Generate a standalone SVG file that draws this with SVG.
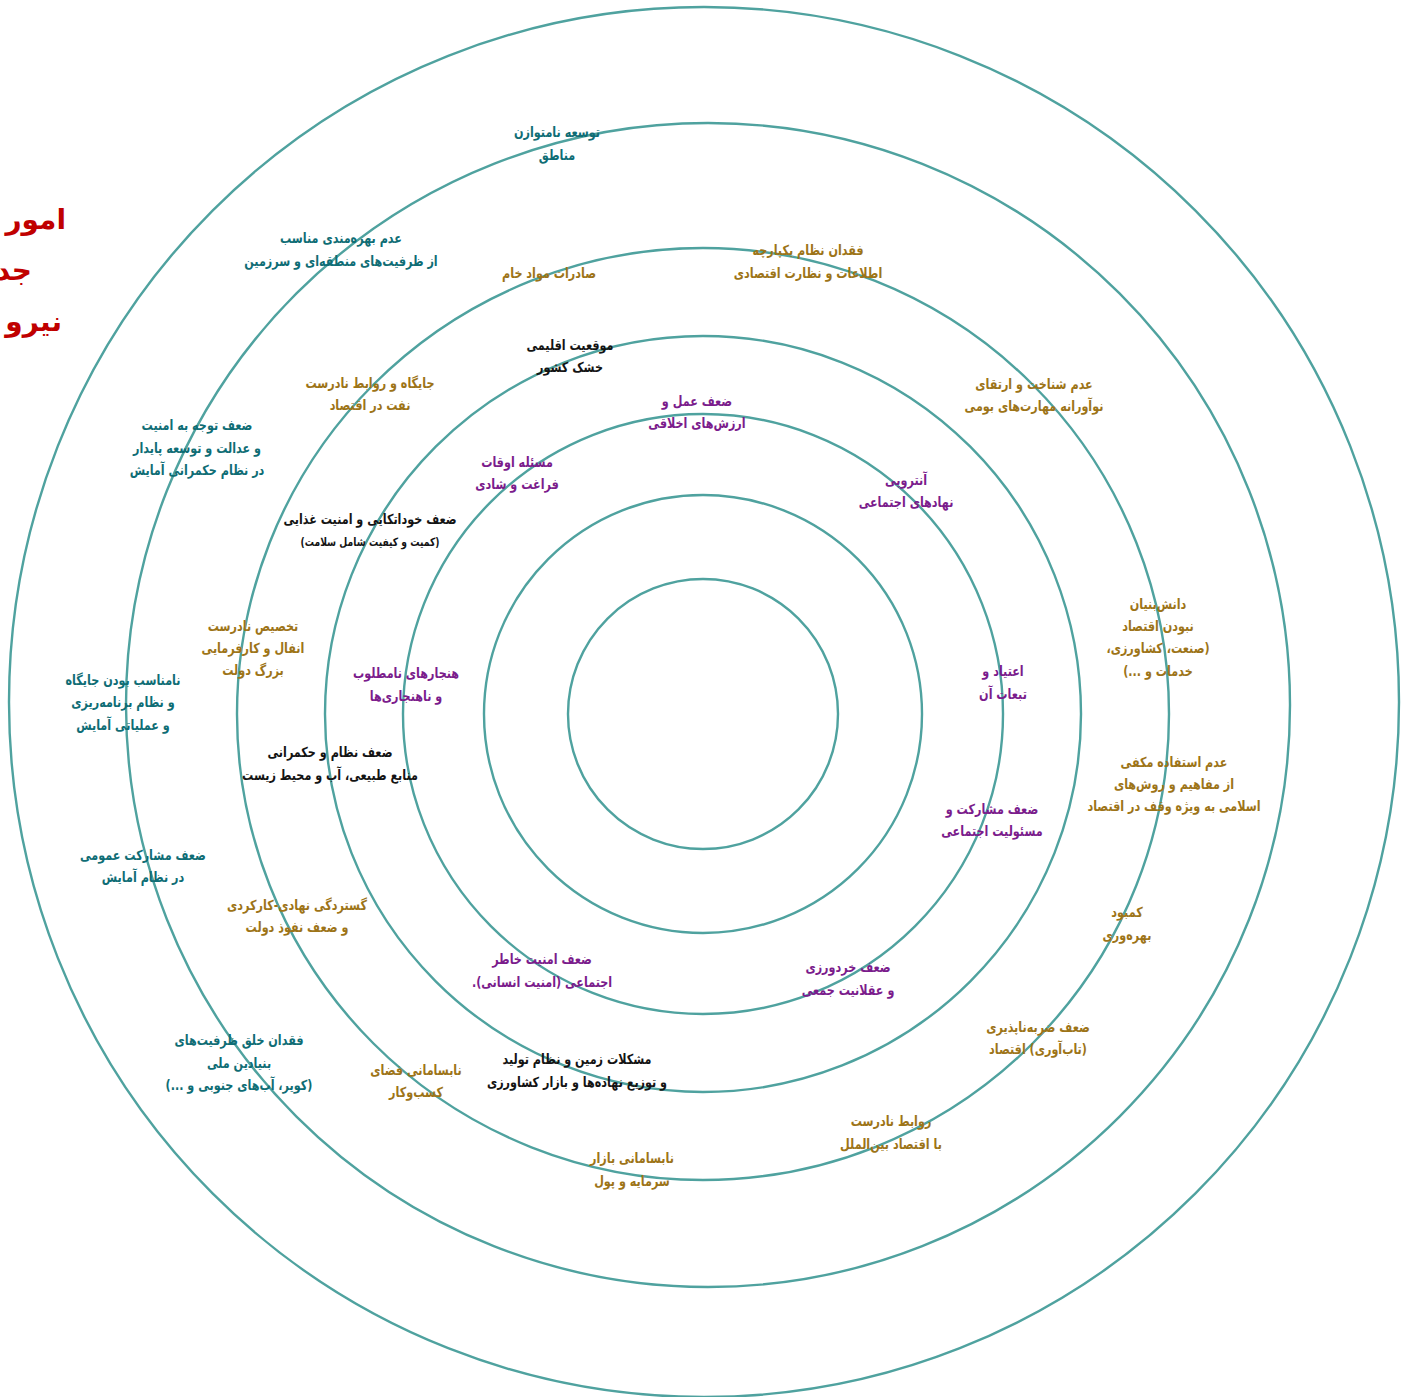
<svg xmlns="http://www.w3.org/2000/svg" width="1402" height="1397" viewBox="0 0 1402 1397">
<style>
.ring{fill:none;stroke:#4fa29f;stroke-width:2.4}
text{font-family:"DejaVu Sans",sans-serif;font-weight:bold;font-size:14px;text-anchor:middle;direction:rtl}
.teal{fill:#0f6d75}
.gold{fill:#9d7418}
.blk{fill:#141414}
.pur{fill:#7b1c8c}
.red text{fill:#c00000;font-size:28px;text-anchor:end;direction:ltr}
.sm{font-size:11.5px}
</style>
<rect width="1402" height="1397" fill="#ffffff"/>
<g id="rings">
<circle class="ring" cx="704" cy="702" r="695"/>
<circle class="ring" cx="708" cy="705" r="582"/>
<circle class="ring" cx="703" cy="714" r="466"/>
<circle class="ring" cx="703" cy="714" r="378"/>
<circle class="ring" cx="703" cy="714" r="300"/>
<circle class="ring" cx="703" cy="714" r="219"/>
<circle class="ring" cx="703" cy="714" r="135"/>
</g>
<g id="title" class="red">
<text x="66" y="229">امور</text>
<text x="32" y="280">جد</text>
<text x="62" y="331">نیرو</text>
</g>
<g id="labels">
<g id="t1" class="teal" transform="matrix(0.8 0 0 1 111.4 0)"><text x="557" y="137">توسعه نامتوازن</text><text x="557" y="160">مناطق</text></g>
<g id="t2" class="teal" transform="matrix(0.8 0 0 1 68.2 0)"><text x="341" y="243">عدم بهره&#8204;مندی مناسب</text><text x="341" y="266">از ظرفیت&#8204;های منطقه&#8204;ای و سرزمین</text></g>
<g id="t3" class="teal" transform="matrix(0.8 0 0 1 39.4 0)"><text x="197" y="430">ضعف توجه به امنیت</text><text x="197" y="453">و عدالت و توسعه پایدار</text><text x="197" y="475">در نظام حکمرانی آمایش</text></g>
<g id="t4" class="teal" transform="matrix(0.8 0 0 1 24.6 0)"><text x="123" y="685">نامناسب بودن جایگاه</text><text x="123" y="707">و نظام برنامه&#8204;ریزی</text><text x="123" y="730">و عملیاتی آمایش</text></g>
<g id="t5" class="teal" transform="matrix(0.8 0 0 1 28.6 0)"><text x="143" y="860">ضعف مشارکت عمومی</text><text x="143" y="882">در نظام آمایش</text></g>
<g id="t6" class="teal" transform="matrix(0.8 0 0 1 47.8 0)"><text x="239" y="1045">فقدان خلق ظرفیت&#8204;های</text><text x="239" y="1068">بنیادین ملی</text><text x="239" y="1090">(کویر، آب&#8204;های جنوبی و ...)</text></g>

<g id="g1" class="gold" transform="matrix(0.8 0 0 1 109.8 0)"><text x="549" y="278">صادرات مواد خام</text></g>
<g id="g2" class="gold" transform="matrix(0.8 0 0 1 161.6 0)"><text x="808" y="255">فقدان نظام یکپارچه</text><text x="808" y="278">اطلاعات و نظارت اقتصادی</text></g>
<g id="g3" class="gold" transform="matrix(0.8 0 0 1 206.8 0)"><text x="1034" y="389">عدم شناخت و ارتقای</text><text x="1034" y="411">نوآورانه مهارت&#8204;های بومی</text></g>
<g id="g4" class="gold" transform="matrix(0.8 0 0 1 231.6 0)"><text x="1158" y="609">دانش&#8204;بنیان</text><text x="1158" y="631">نبودن اقتصاد</text><text x="1158" y="653">(صنعت، کشاورزی،</text><text x="1158" y="676">خدمات و ...)</text></g>
<g id="g5" class="gold" transform="matrix(0.8 0 0 1 234.8 0)"><text x="1174" y="767">عدم استفاده مکفی</text><text x="1174" y="789">از مفاهیم و روش&#8204;های</text><text x="1174" y="811">اسلامی به ویژه وقف در اقتصاد</text></g>
<g id="g6" class="gold" transform="matrix(0.8 0 0 1 225.4 0)"><text x="1127" y="917">کمبود</text><text x="1127" y="940">بهره&#8204;وری</text></g>
<g id="g7" class="gold" transform="matrix(0.8 0 0 1 207.6 0)"><text x="1038" y="1032">ضعف ضربه&#8204;ناپذیری</text><text x="1038" y="1054">(تاب&#8204;آوری) اقتصاد</text></g>
<g id="g8" class="gold" transform="matrix(0.8 0 0 1 178.2 0)"><text x="891" y="1126">روابط نادرست</text><text x="891" y="1149">با اقتصاد بین&#8204;الملل</text></g>
<g id="g9" class="gold" transform="matrix(0.8 0 0 1 126.4 0)"><text x="632" y="1163">نابسامانی بازار</text><text x="632" y="1186">سرمایه و پول</text></g>
<g id="g10" class="gold" transform="matrix(0.8 0 0 1 83.2 0)"><text x="416" y="1075">نابسامانی فضای</text><text x="416" y="1097">کسب&#8204;وکار</text></g>
<g id="g11" class="gold" transform="matrix(0.8 0 0 1 59.4 0)"><text x="297" y="910">گستردگی نهادی-کارکردی</text><text x="297" y="932">و ضعف نفوذ دولت</text></g>
<g id="g12" class="gold" transform="matrix(0.8 0 0 1 50.6 0)"><text x="253" y="631">تخصیص نادرست</text><text x="253" y="653">انفال و کارفرمایی</text><text x="253" y="675">بزرگ دولت</text></g>
<g id="g13" class="gold" transform="matrix(0.8 0 0 1 74 0)"><text x="370" y="388">جایگاه و روابط نادرست</text><text x="370" y="410">نفت در اقتصاد</text></g>

<g id="b1" class="blk" transform="matrix(0.8 0 0 1 114 0)"><text x="570" y="350">موقعیت اقلیمی</text><text x="570" y="372">خشک کشور</text></g>
<g id="b2" class="blk" transform="matrix(0.8 0 0 1 74 0)"><text x="370" y="524">ضعف خوداتکایی و امنیت غذایی</text><text class="sm" x="370" y="546">(کمیت و کیفیت شامل سلامت)</text></g>
<g id="b3" class="blk" transform="matrix(0.8 0 0 1 66 0)"><text x="330" y="757">ضعف نظام و حکمرانی</text><text x="330" y="780">منابع طبیعی، آب و محیط زیست</text></g>
<g id="b4" class="blk" transform="matrix(0.8 0 0 1 115.4 0)"><text x="577" y="1064">مشکلات زمین و نظام تولید</text><text x="577" y="1087">و توزیع نهاده&#8204;ها و بازار کشاورزی</text></g>

<g id="p1" class="pur" transform="matrix(0.8 0 0 1 139.4 0)"><text x="697" y="406">ضعف عمل و</text><text x="697" y="428">ارزش&#8204;های اخلاقی</text></g>
<g id="p2" class="pur" transform="matrix(0.8 0 0 1 103.4 0)"><text x="517" y="467">مسئله اوقات</text><text x="517" y="489">فراغت و شادی</text></g>
<g id="p3" class="pur" transform="matrix(0.8 0 0 1 181.2 0)"><text x="906" y="485">آنتروپی</text><text x="906" y="507">نهادهای اجتماعی</text></g>
<g id="p4" class="pur" transform="matrix(0.8 0 0 1 81.2 0)"><text x="406" y="678">هنجارهای نامطلوب</text><text x="406" y="701">و ناهنجاری&#8204;ها</text></g>
<g id="p5" class="pur" transform="matrix(0.8 0 0 1 200.6 0)"><text x="1003" y="676">اعتیاد و</text><text x="1003" y="699">تبعات آن</text></g>
<g id="p6" class="pur" transform="matrix(0.8 0 0 1 198.4 0)"><text x="992" y="814">ضعف مشارکت و</text><text x="992" y="836">مسئولیت اجتماعی</text></g>
<g id="p7" class="pur" transform="matrix(0.8 0 0 1 108.4 0)"><text x="542" y="964">ضعف امنیت خاطر</text><text x="542" y="987">اجتماعی (امنیت انسانی).</text></g>
<g id="p8" class="pur" transform="matrix(0.8 0 0 1 169.6 0)"><text x="848" y="972">ضعف خردورزی</text><text x="848" y="995">و عقلانیت جمعی</text></g>
</g>
</svg>
